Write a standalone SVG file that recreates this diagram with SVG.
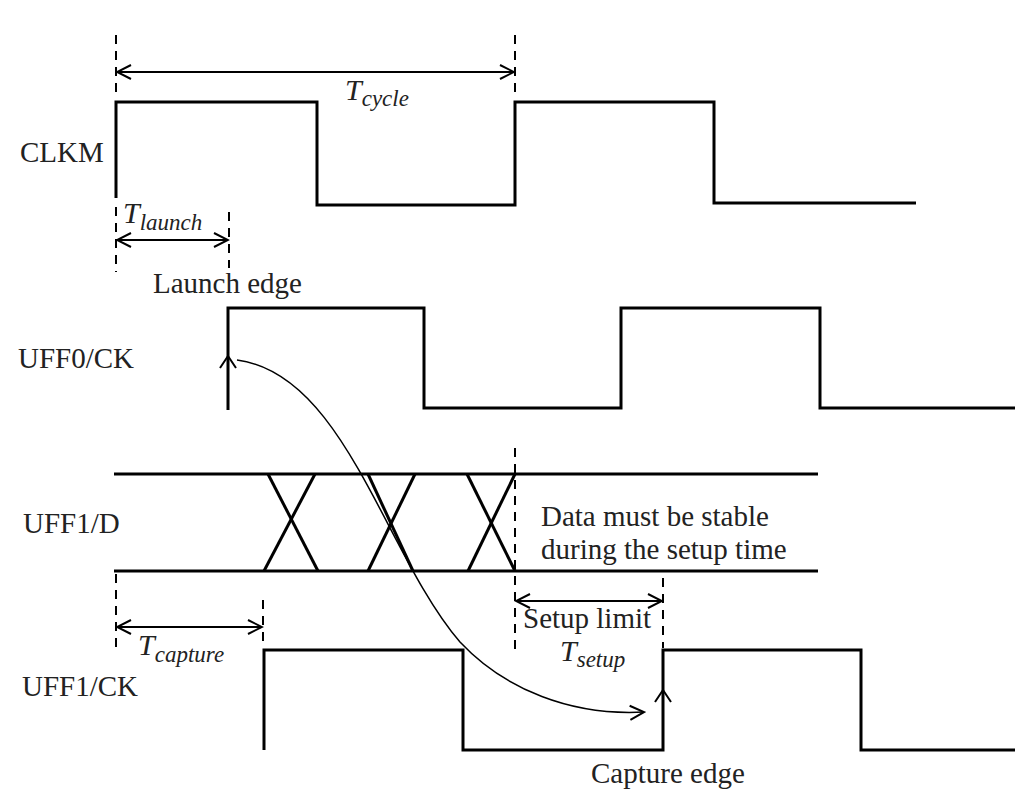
<svg xmlns="http://www.w3.org/2000/svg" width="1017" height="812" viewBox="0 0 1017 812">
<style>
.wave{fill:none;stroke:#000;stroke-width:3;stroke-linejoin:miter}
.dash{fill:none;stroke:#000;stroke-width:2;stroke-dasharray:9,7}
.dim{fill:none;stroke:#000;stroke-width:2}
.lbl{font-family:"Liberation Serif","Times New Roman",serif;font-size:29px;fill:#222}
.it{font-family:"Liberation Serif","Times New Roman",serif;font-style:italic;font-size:30px;fill:#222}
.sub{font-size:23px}
</style>
<defs>
<marker id="ah" viewBox="0 0 20 20" refX="18" refY="10" markerWidth="20" markerHeight="20" markerUnits="userSpaceOnUse" orient="auto-start-reverse">
<path d="M4,3 L18,10 L4,17" fill="none" stroke="#000" stroke-width="2"/>
</marker>
</defs>
<rect width="1017" height="812" fill="#fff"/>
<g id="labels">
<text class="lbl" x="20" y="162">CLKM</text>
<text class="lbl" x="18" y="368">UFF0/CK</text>
<text class="lbl" x="23" y="533">UFF1/D</text>
<text class="lbl" x="22" y="696">UFF1/CK</text>
</g>
<g id="clkm">
<polyline class="wave" points="116,198 116,102 317,102 317,205 515,205 515,102 714,102 714,203 916,203"/>
</g>
<g id="uff0ck">
<polyline class="wave" points="228,410 228,308 424,308 424,408 621,408 621,308 820,308 820,408 1015,408"/>
<polyline class="dim" points="220,368 228,356 236,368"/>
</g>
<g id="uff1d">
<line class="wave" x1="114" y1="474" x2="818" y2="474"/>
<line class="wave" x1="114" y1="571" x2="818" y2="571"/>
<line class="wave" x1="268" y1="474" x2="318" y2="571"/>
<line class="wave" x1="315" y1="474" x2="264" y2="571"/>
<line class="wave" x1="368" y1="474" x2="413" y2="571"/>
<line class="wave" x1="415" y1="474" x2="368" y2="571"/>
<line class="wave" x1="467" y1="474" x2="515" y2="571"/>
<line class="wave" x1="515" y1="474" x2="468" y2="571"/>
</g>
<g id="uff1ck">
<polyline class="wave" points="264,750 264,650 463,650 463,750 663,750 663,650 861,650 861,750 1015,750"/>
<polyline class="dim" points="655,702 663,690 671,702"/>
</g>
<g id="guides">
<line class="dash" x1="116" y1="35" x2="116" y2="92"/>
<line class="dash" x1="515" y1="35" x2="515" y2="92"/>
<line class="dash" x1="116" y1="207" x2="116" y2="272"/>
<line class="dash" x1="229" y1="212" x2="229" y2="268"/>
<line class="dash" x1="515" y1="448" x2="515" y2="656"/>
<line class="dash" x1="116" y1="574" x2="116" y2="650"/>
<line class="dash" x1="263" y1="600" x2="263" y2="646"/>
<line class="dash" x1="663" y1="578" x2="663" y2="648"/>
</g>
<g id="connectors">
<line class="dim" x1="117" y1="72" x2="514" y2="72" marker-start="url(#ah)" marker-end="url(#ah)"/>
<line class="dim" x1="117" y1="240" x2="228" y2="240" marker-start="url(#ah)" marker-end="url(#ah)"/>
<line class="dim" x1="117" y1="627" x2="262" y2="627" marker-start="url(#ah)" marker-end="url(#ah)"/>
<line class="dim" x1="516" y1="601" x2="662" y2="601" marker-start="url(#ah)" marker-end="url(#ah)"/>
<path d="M237,360 C345,374 385,555 460,642 C505,690 572,716 644,712" fill="none" stroke="#000" stroke-width="1.5" marker-end="url(#ah)"/>
</g>
<g id="annotations">
<text class="it" x="345" y="100">T<tspan class="sub" dy="6">cycle</tspan></text>
<text class="it" x="123" y="223">T<tspan class="sub" dy="7">launch</tspan></text>
<text class="lbl" x="153" y="293">Launch edge</text>
<text class="lbl" x="541" y="526">Data must be stable</text>
<text class="lbl" x="541" y="559">during the setup time</text>
<text class="it" x="138" y="655">T<tspan class="sub" dy="7">capture</tspan></text>
<text class="lbl" x="523" y="628">Setup limit</text>
<text class="it" x="560" y="661">T<tspan class="sub" dy="6">setup</tspan></text>
<text class="lbl" x="591" y="783">Capture edge</text>
</g>
</svg>
